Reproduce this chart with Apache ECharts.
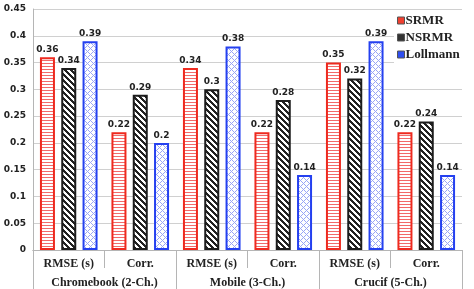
<!DOCTYPE html>
<html><head><meta charset="utf-8">
<script src="https://cdn.jsdelivr.net/npm/echarts@6/dist/echarts.min.js"></script>
<style>html,body{margin:0;padding:0;background:#fff}#c{width:474px;height:289px}</style>
</head><body><div id="c"></div>
<script>
const categories = ['RMSE (s)', 'Corr.', 'RMSE (s)', 'Corr.', 'RMSE (s)', 'Corr.'];
const groups = ['Chromebook (2-Ch.)', 'Mobile (3-Ch.)', 'Crucif (5-Ch.)'];
const seriesNames = ['SRMR', 'NSRMR', 'Lollmann'];
const srmr = [0.36, 0.22, 0.34, 0.22, 0.35, 0.22];
const nsrmr = [0.34, 0.29, 0.3, 0.28, 0.32, 0.24];
const lollmann = [0.39, 0.2, 0.38, 0.14, 0.39, 0.14];
const yTicks = [0, 0.05, 0.1, 0.15, 0.2, 0.25, 0.3, 0.35, 0.4, 0.45];

function tile(w, h, fn) {
  const c = document.createElement('canvas');
  c.width = w; c.height = h;
  const ctx = c.getContext('2d');
  ctx.fillStyle = '#fff'; ctx.fillRect(0, 0, w, h);
  for (let x = 0; x < w; x++) for (let y = 0; y < h; y++) {
    const col = fn(x, y);
    if (col) { ctx.fillStyle = col; ctx.fillRect(x, y, 1, 1); }
  }
  return c;
}
const redPat = tile(1, 3, (x, y) => y === 0 ? '#f26a6a' : null);
const blackPat = tile(6, 6, (x, y) => (((x - y) % 6) + 6) % 6 < 3 ? '#222' : null);
const bluePat = tile(6, 6, (x, y) => ((x + y) % 6 === 0 || (((x - y) % 6) + 6) % 6 === 0) ? '#9aa6f5' : null);

const pats = [redPat, blackPat, bluePat];
const borders = ['#ee2a1f', '#1c1c1c', '#2440f0'];
const legendFill = ['#f04030', '#333', '#2f4ff0'];
const datas = [srmr, nsrmr, lollmann];

const chart = echarts.init(document.getElementById('c'), null, {renderer: 'canvas'});
const labelFont = {fontFamily: 'DejaVu Sans', fontWeight: 'bold', fontSize: 9, color: '#222'};
const catFont = {fontFamily: 'Liberation Serif', fontWeight: 'bold', fontSize: 12, color: '#222'};
chart.setOption({
  animation: false,
  grid: {left: 33, right: 12, top: 9, bottom: 39},
  legend: {
    orient: 'vertical', left: 394, top: 11, backgroundColor: '#fff',
    padding: [3, 4, 4, 3], itemWidth: 7, itemHeight: 7, itemGap: 4,
    textStyle: {fontFamily: 'Liberation Serif', fontWeight: 'bold', fontSize: 13, color: '#222', padding: [0, 0, 0, -4]},
    data: seriesNames.map((n, i) => ({name: n, icon: 'rect', itemStyle: {color: legendFill[i], borderColor: '#555', borderWidth: 1}}))
  },
  xAxis: [{
    type: 'category', data: categories, position: 'bottom',
    axisLine: {show: true, lineStyle: {color: '#b5b5b5'}},
    axisTick: {show: true, length: 18, lineStyle: {color: '#b5b5b5'}},
    axisLabel: Object.assign({margin: 8}, catFont)
  }, {
    type: 'category', data: groups, position: 'bottom',
    axisLine: {show: true, lineStyle: {color: '#b5b5b5'}},
    axisTick: {show: true, length: 40, lineStyle: {color: '#b5b5b5'}},
    axisLabel: Object.assign({margin: 27}, catFont)
  }],
  yAxis: {
    type: 'value', min: 0, max: 0.45, interval: 0.05,
    axisLine: {show: true, lineStyle: {color: '#b5b5b5'}},
    axisTick: {show: false},
    splitLine: {lineStyle: {color: '#d0d0d0'}},
    axisLabel: Object.assign({margin: 7, formatter: v => {
      const t = yTicks.find(k => Math.abs(k - v) < 1e-9);
      return t === undefined ? '' : String(+t.toFixed(2));
    }}, labelFont)
  },
  series: datas.map((d, i) => ({
    name: seriesNames[i], type: 'bar', data: d, xAxisIndex: 0,
    barWidth: 15, barGap: '42%',
    itemStyle: {color: {image: pats[i], repeat: 'repeat'}, borderColor: borders[i], borderWidth: 2},
    label: Object.assign({show: true, position: 'top', distance: 3, formatter: p => String(p.value)}, labelFont)
  }))
});
</script></body></html>
